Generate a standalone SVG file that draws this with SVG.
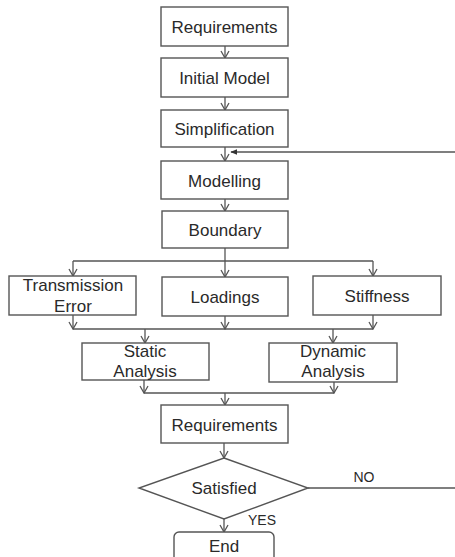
<svg xmlns="http://www.w3.org/2000/svg" width="455" height="557" viewBox="0 0 455 557">
<defs>
<style>
.box{fill:#fff;stroke:#555;stroke-width:1.4}
.ln{fill:none;stroke:#555;stroke-width:1.3}
.ar{fill:none;stroke:#555;stroke-width:1.3;marker-end:url(#v)}
text{font-family:"Liberation Sans",Arial,sans-serif;font-size:17px;fill:#2a2a2a;text-anchor:middle}
.sm{font-size:14px}
</style>
<marker id="v" viewBox="0 0 10 10" refX="9" refY="5" markerWidth="10" markerHeight="10" markerUnits="userSpaceOnUse" orient="auto">
<path d="M2,1 L9,5 L2,9" fill="none" stroke="#555" stroke-width="1.3"/>
</marker>
<marker id="f" viewBox="0 0 10 10" refX="9" refY="5" markerWidth="7" markerHeight="7" markerUnits="userSpaceOnUse" orient="auto">
<path d="M0,1 L10,5 L0,9 z" fill="#333"/>
</marker>
</defs>
<rect width="455" height="557" fill="#fff"/>
<g id="connectors">
<line class="ar" x1="225" y1="46" x2="225" y2="58"/>
<line class="ar" x1="225" y1="97" x2="225" y2="110"/>
<line class="ar" x1="225" y1="147" x2="225" y2="161"/>
<line class="ln" x1="455" y1="152" x2="231" y2="152" style="marker-end:url(#f)"/>
<line class="ar" x1="225" y1="199" x2="225" y2="211"/>
<line class="ar" x1="225" y1="248" x2="225" y2="277"/>
<line class="ln" x1="73" y1="261" x2="373" y2="261"/>
<line class="ar" x1="73" y1="261" x2="73" y2="276"/>
<line class="ar" x1="373" y1="261" x2="373" y2="276"/>
<line class="ar" x1="73" y1="315" x2="73" y2="329"/>
<line class="ar" x1="225" y1="316" x2="225" y2="329"/>
<line class="ar" x1="373" y1="315" x2="373" y2="329"/>
<line class="ln" x1="73" y1="329" x2="373" y2="329"/>
<line class="ar" x1="145" y1="329" x2="145" y2="343"/>
<line class="ar" x1="333" y1="329" x2="333" y2="343"/>
<line class="ar" x1="144" y1="380" x2="144" y2="393"/>
<line class="ar" x1="334" y1="382" x2="334" y2="393"/>
<line class="ln" x1="144" y1="393" x2="334" y2="393"/>
<line class="ar" x1="225" y1="393" x2="225" y2="405"/>
<line class="ar" x1="224" y1="443" x2="224" y2="458"/>
<line class="ln" x1="308" y1="488" x2="455" y2="488"/>
<line class="ar" x1="224" y1="519" x2="224" y2="532"/>
<text class="sm" x="364" y="482">NO</text>
<text class="sm" x="262" y="525">YES</text>
</g>
<g id="req1"><rect class="box" x="161" y="7" width="127" height="39"/><text x="224.5" y="33">Requirements</text></g>
<g id="initial"><rect class="box" x="161" y="58" width="127" height="39"/><text x="224.5" y="84">Initial Model</text></g>
<g id="simpl"><rect class="box" x="161" y="110" width="127" height="37"/><text x="224.5" y="135">Simplification</text></g>
<g id="modelling"><rect class="box" x="161" y="161" width="127" height="38"/><text x="224.5" y="186.5">Modelling</text></g>
<g id="boundary"><rect class="box" x="162" y="211" width="126" height="37"/><text x="225" y="236">Boundary</text></g>
<g id="te"><rect class="box" x="9" y="276" width="127" height="39"/><text x="73" y="291">Transmission</text><text x="73" y="312">Error</text></g>
<g id="loadings"><rect class="box" x="162" y="277" width="126" height="39"/><text x="225" y="303">Loadings</text></g>
<g id="stiffness"><rect class="box" x="313" y="276" width="128" height="39"/><text x="377" y="302">Stiffness</text></g>
<g id="static"><rect class="box" x="82" y="343" width="127" height="37"/><text x="145" y="357">Static</text><text x="145" y="377">Analysis</text></g>
<g id="dynamic"><rect class="box" x="269" y="343" width="128" height="39"/><text x="333" y="357">Dynamic</text><text x="333" y="377">Analysis</text></g>
<g id="req2"><rect class="box" x="161" y="405" width="127" height="38"/><text x="224.5" y="430.5">Requirements</text></g>
<g id="satisfied"><polygon class="box" points="224,458 308,488 224,519 139,488"/><text x="224" y="494">Satisfied</text></g>
<g id="end"><rect class="box" x="174" y="532" width="100" height="40" rx="5"/><text x="224" y="552">End</text></g>
</svg>
